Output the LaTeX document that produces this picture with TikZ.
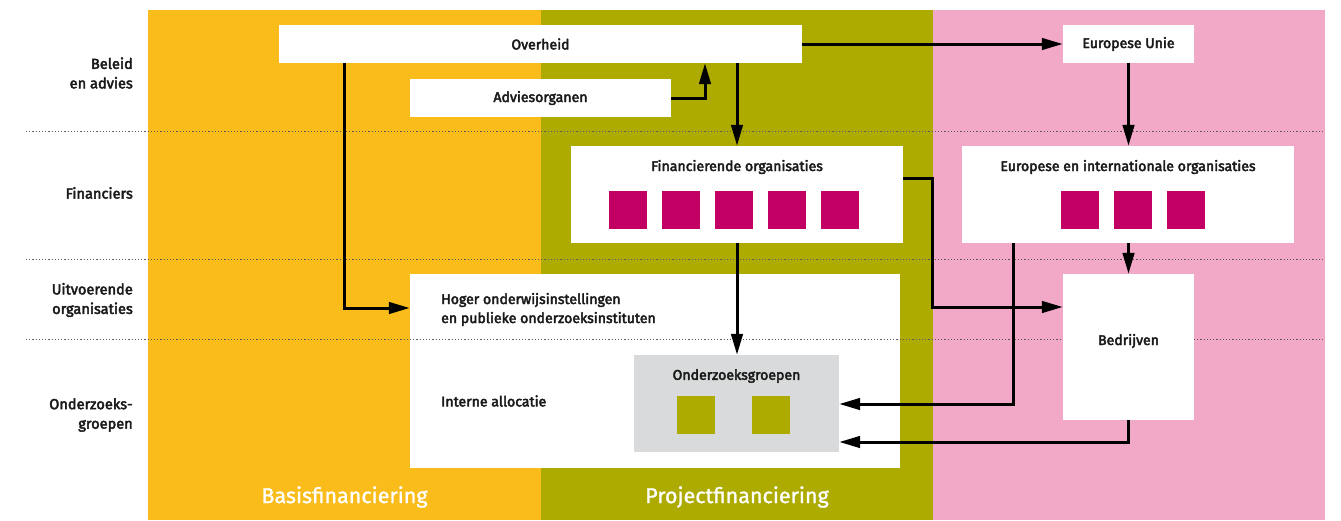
\documentclass[tikz,border=0pt]{standalone}
\usepackage{fontspec}
\setmainfont{Fira Sans}[FakeBold=3]
\newfontfamily\kopfont{Fira Sans}[FakeBold=1.2]
\usetikzlibrary{arrows.meta}
\definecolor{geel}{HTML}{F9BC1A}
\definecolor{olijf}{HTML}{ADAA00}
\definecolor{roze}{HTML}{F2A8C7}
\definecolor{robijn}{HTML}{C20063}
\definecolor{grijs}{HTML}{D9DADB}
\definecolor{tekst}{HTML}{1A1A1A}
\begin{document}
\begin{tikzpicture}[x=1pt,y=-1pt,
    every node/.style={font=\fontsize{14.1}{19}\selectfont,text=tekst},
    box/.style={fill=white,inner sep=0pt},
    blok/.style={fill=robijn,minimum width=38pt,minimum height=38pt,inner sep=0pt},
    groenblok/.style={blok,fill=olijf},
    pijl/.style={line width=3pt,-{Triangle[length=21pt,width=11.5pt]}},
    stip/.style={line width=0.9pt,dash pattern=on 1.2pt off 2pt,black!65},
    rij/.style={anchor=east,align=right,inner sep=0pt,font=\fontsize{14.6}{19.5}\selectfont},
    kolom/.style={font=\kopfont\fontsize{21.5}{24}\selectfont,text=white}]
    \useasboundingbox (0,0) rectangle (1341,520);
    %% columns
    \fill[geel] (148,10) rectangle (541,520);
    \fill[olijf] (541,10) rectangle (933,520);
    \fill[roze] (933,10) rectangle (1325,520);
    \node[kolom] (basis) at (344.5,497) {Basisfinanciering};
    \node[kolom] (project) at (737,497) {Projectfinanciering};
    %% universities (under the dotted lines)
    \node[box,minimum width=490pt,minimum height=194pt] (hoi) at (655,371) {};
    \node[anchor=west,align=left,inner sep=0pt] (hoitekst) at (441,309.5) {Hoger onderwijsinstellingen\\en publieke onderzoeksinstituten};
    \node[anchor=west,inner sep=0pt] (intern) at (441,401) {Interne allocatie};
    %% rows
    \foreach \y in {131,259,339}
        \draw[stip] (26,\y) -- (1324,\y);
    \node[rij] (rij1) at (133,73) {Beleid\\en advies};
    \node[rij] (rij2) at (133,193) {Financiers};
    \node[rij] (rij3) at (133,300) {Uitvoerende\\organisaties};
    \node[rij] (rij4) at (133,415) {Onderzoeks-\\groepen};
    %% boxes
    \node[box,minimum width=523pt,minimum height=38pt] (overheid) at (540.5,44) {Overheid};
    \node[box,minimum width=261pt,minimum height=38pt] (advies) at (540.5,98) {Adviesorganen};
    \node[box,minimum width=131pt,minimum height=38pt] (eu) at (1128.5,44) {Europese Unie};
    \node[box,minimum width=332pt,minimum height=97pt] (fin) at (737,194.5) {};
    \node (fintitel) at (737,167) {Financierende organisaties};
    \foreach \i in {0,...,4}
        \node[blok] (fb\i) at (628+53*\i,210) {};
    \node[box,minimum width=332pt,minimum height=97pt] (eio) at (1128,194.5) {};
    \node (eiotitel) at (1128,167) {Europese en internationale organisaties};
    \foreach \i in {0,...,2}
        \node[blok] (eb\i) at (1080+53*\i,210) {};
    \node[box,fill=grijs,minimum width=205pt,minimum height=97pt] (ozg) at (736.5,403.5) {};
    \node (ozgtitel) at (736.5,376) {Onderzoeksgroepen};
    \node[groenblok] (gb0) at (696,415) {};
    \node[groenblok] (gb1) at (771,415) {};
    \node[box,minimum width=131pt,minimum height=146pt] (bed) at (1128.5,347) {};
    \node (bedtekst) at (1128.5,341) {Bedrijven};
    %% arrows
    \coordinate (k1) at (932,178);
    \coordinate (k2) at (932,307);
    \coordinate (k3) at (1013,404);
    \coordinate (k4) at (1128.5,442);
    \draw[pijl] (overheid.south -| 344,0) |- (hoi.west |- 0,308);
    \draw[pijl] (advies.east) -| (overheid.south -| 705,0);
    \draw[pijl] (overheid.south -| fin.north) -- (fin.north);
    \draw[pijl] (overheid.east) -- (eu.west);
    \draw[pijl] (eu.south) -- (eu.south |- eio.north);
    \draw[pijl] (eio.south -| bed.north) -- (bed.north);
    \draw[pijl] (fin.east |- k1) -- (k1) -- (k2) -- (bed.west |- k2);
    \draw[pijl] (fin.south) -- (fin.south |- ozg.north);
    \draw[pijl] (eio.south -| k3) |- (ozg.east |- k3);
    \draw[pijl] (bed.south -| k4) |- (ozg.east |- k4);
\end{tikzpicture}
\end{document}
